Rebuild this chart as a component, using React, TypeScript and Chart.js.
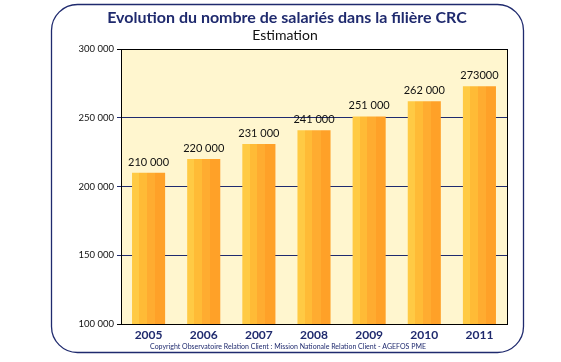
import React, { useEffect, useRef } from "react";
import { Chart, registerables } from "chart.js";

Chart.register(...registerables);

const years = ["2005", "2006", "2007", "2008", "2009", "2010", "2011"];
const employees = [210000, 220000, 231000, 241000, 251000, 262000, 273000];
const valueLabels = ["210 000", "220 000", "231 000", "241 000", "251 000", "262 000", "273000"];
const yTickLabels: Record<number, string> = {
  100000: "100 000",
  150000: "150 000",
  200000: "200 000",
  250000: "250 000",
  300000: "300 000",
};
const titleText = "Evolution du nombre de salariés dans la filière CRC";
const subtitleText = "Estimation";
const copyrightText =
  "Copyright Observatoire Relation Client : Mission Nationale Relation Client - AGEFOS PME";

const NAVY = "#1f2a6e";
const FONT = "Lato, 'Open Sans', sans-serif";

const stripeStops: [number, string][] = [
  [0, "#ffca44"],
  [0.22, "#ffbb36"],
  [0.45, "#ffac30"],
  [0.7, "#ffa128"],
  [1, "#ff951e"],
];

function barGradient(ctx: CanvasRenderingContext2D, x0: number, x1: number) {
  const g = ctx.createLinearGradient(x0, 0, x1, 0);
  for (let i = 0; i < stripeStops.length - 1; i++) {
    const [p, c] = stripeStops[i];
    const [pn] = stripeStops[i + 1];
    g.addColorStop(p, c);
    g.addColorStop(Math.max(p, pn - 0.001), c);
  }
  g.addColorStop(1, stripeStops[stripeStops.length - 1][1]);
  return g;
}

const decorPlugin = {
  id: "decor",
  beforeDraw(chart: any) {
    const { ctx, chartArea } = chart;
    ctx.save();
    ctx.fillStyle = "#ffffff";
    ctx.fillRect(0, 0, chart.width, chart.height);
    // rounded frame
    const x = 51.5, y = 4.5, w = 472, h = 348, r = 26;
    ctx.beginPath();
    ctx.moveTo(x + r, y);
    ctx.lineTo(x + w - r, y);
    ctx.arcTo(x + w, y, x + w, y + r, r);
    ctx.lineTo(x + w, y + h - r);
    ctx.arcTo(x + w, y + h, x + w - r, y + h, r);
    ctx.lineTo(x + r, y + h);
    ctx.arcTo(x, y + h, x, y + h - r, r);
    ctx.lineTo(x, y + r);
    ctx.arcTo(x, y, x + r, y, r);
    ctx.closePath();
    ctx.strokeStyle = NAVY;
    ctx.lineWidth = 1.3;
    ctx.stroke();
    // plot background
    ctx.fillStyle = "#fff6cf";
    ctx.fillRect(chartArea.left, chartArea.top, chartArea.right - chartArea.left, chartArea.bottom - chartArea.top);
    // titles
    ctx.textAlign = "center";
    ctx.textBaseline = "middle";
    ctx.fillStyle = NAVY;
    ctx.font = `bold 16px ${FONT}`;
    ctx.fillText(titleText, 287, 18);
    ctx.fillStyle = "#111111";
    ctx.font = `14px ${FONT}`;
    ctx.fillText(subtitleText, 285, 35);
    ctx.fillStyle = NAVY;
    ctx.font = `7px ${FONT}`;
    ctx.fillText(copyrightText, 288, 347);
    ctx.restore();
  },
  afterDatasetsDraw(chart: any) {
    const { ctx, chartArea } = chart;
    ctx.save();
    ctx.strokeStyle = "#000000";
    ctx.lineWidth = 1;
    ctx.strokeRect(
      Math.round(chartArea.left) + 0.5,
      Math.round(chartArea.top) + 0.5,
      Math.round(chartArea.right - chartArea.left),
      Math.round(chartArea.bottom - chartArea.top)
    );
    const meta = chart.getDatasetMeta(0);
    ctx.fillStyle = "#111111";
    ctx.font = `11px ${FONT}`;
    ctx.textAlign = "center";
    ctx.textBaseline = "alphabetic";
    meta.data.forEach((bar: any, i: number) => {
      ctx.fillText(valueLabels[i], bar.x, bar.y - 7);
    });
    ctx.restore();
  },
};

export default function App() {
  const canvasRef = useRef<HTMLCanvasElement | null>(null);

  useEffect(() => {
    if (!canvasRef.current) return;
    const chart = new Chart(canvasRef.current, {
      type: "bar",
      data: {
        labels: years,
        datasets: [
          {
            data: employees,
            barPercentage: 0.6,
            categoryPercentage: 1,
            borderWidth: 0,
            backgroundColor: (c: any) => {
              const ch = c.chart;
              const xs = ch.scales && ch.scales.x;
              if (!xs || !ch.chartArea) return "#ffaa2e";
              const cx = xs.getPixelForValue(c.dataIndex);
              const cw = (ch.chartArea.right - ch.chartArea.left) / years.length;
              const bw = cw * 0.6;
              return barGradient(ch.ctx, cx - bw / 2, cx + bw / 2);
            },
          },
        ],
      },
      options: {
        responsive: false,
        animation: false,
        layout: { padding: { left: 0, right: 54, top: 49, bottom: 18 } },
        plugins: {
          legend: { display: false },
          title: { display: false },
          tooltip: { enabled: false },
        },
        scales: {
          x: {
            grid: { display: false, drawTicks: false },
            border: { display: false },
            ticks: {
              color: NAVY,
              font: { family: FONT, size: 12, weight: "bold" },
              padding: 4,
            },
            afterFit: (s: any) => {
              s.height = 20;
            },
          },
          y: {
            min: 100000,
            max: 300000,
            grid: {
              drawTicks: true,
              tickLength: 4,
              color: (c: any) =>
                c.tick && (c.tick.value === 100000 || c.tick.value === 300000) ? "#000000" : NAVY,
              lineWidth: 1,
            },
            border: { display: false },
            ticks: {
              stepSize: 50000,
              color: "#111111",
              font: { family: FONT, size: 9.5 },
              padding: 3,
              callback: (v: any) => yTickLabels[v as number] ?? "",
            },
            afterFit: (s: any) => {
              s.width = 121;
            },
          },
        },
      },
      plugins: [decorPlugin],
    });
    return () => chart.destroy();
  }, []);

  return (
    <div style={{ position: "absolute", left: 0, top: 0, width: 561, height: 362 }}>
      <canvas ref={canvasRef} width={561} height={362} />
    </div>
  );
}
